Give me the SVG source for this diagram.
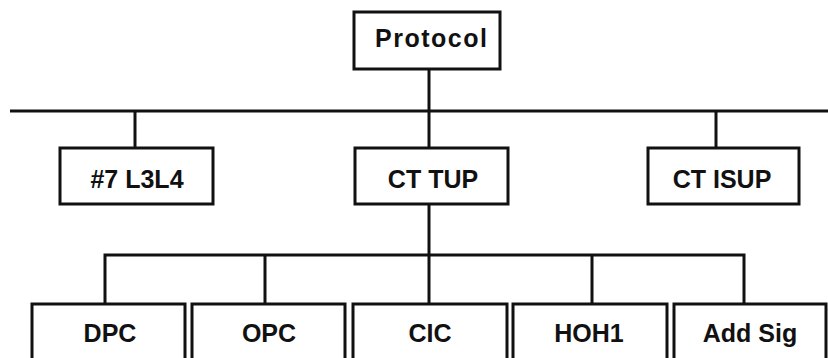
<svg xmlns="http://www.w3.org/2000/svg" width="828" height="358" viewBox="0 0 828 358">
  <style>
    .box { fill: #fff; stroke: #111; stroke-width: 3; }
    .wire { fill: none; stroke: #111; stroke-width: 3; }
    .lbl { font-family: "Liberation Sans", Arial, sans-serif; font-size: 25px; font-weight: bold; fill: #111; text-anchor: middle; }
  </style>
  <rect width="828" height="358" fill="#fff"/>
  <g id="connectors">
    <line class="wire" x1="429" y1="69" x2="429" y2="148"/>
    <line class="wire" x1="10" y1="111" x2="828" y2="111"/>
    <line class="wire" x1="135" y1="111" x2="135" y2="148"/>
    <line class="wire" x1="716" y1="111" x2="716" y2="148"/>
    <line class="wire" x1="429" y1="204" x2="429" y2="304"/>
    <polyline class="wire" points="105,304 105,255 744,255 744,304"/>
    <line class="wire" x1="265" y1="255" x2="265" y2="304"/>
    <line class="wire" x1="592" y1="255" x2="592" y2="304"/>
  </g>
  <g id="protocol">
    <rect class="box" x="354" y="12" width="146" height="57"/>
    <text class="lbl" x="431" y="47" textLength="112" lengthAdjust="spacing">Protocol</text>
  </g>
  <g id="l3l4">
    <rect class="box" x="60" y="148" width="153" height="56"/>
    <text class="lbl" x="137" y="188">#7 L3L4</text>
  </g>
  <g id="ct-tup">
    <rect class="box" x="355" y="148" width="153" height="56"/>
    <text class="lbl" x="433" y="188">CT TUP</text>
  </g>
  <g id="ct-isup">
    <rect class="box" x="648" y="148" width="151" height="56"/>
    <text class="lbl" x="722" y="188">CT ISUP</text>
  </g>
  <g id="dpc">
    <rect class="box" x="32" y="304" width="153" height="60"/>
    <text class="lbl" x="110" y="342">DPC</text>
  </g>
  <g id="opc">
    <rect class="box" x="192" y="304" width="153" height="60"/>
    <text class="lbl" x="269" y="342">OPC</text>
  </g>
  <g id="cic">
    <rect class="box" x="353" y="304" width="154" height="60"/>
    <text class="lbl" x="430" y="342">CIC</text>
  </g>
  <g id="hoh1">
    <rect class="box" x="513" y="304" width="154" height="60"/>
    <text class="lbl" x="589" y="342">HOH1</text>
  </g>
  <g id="add-sig">
    <rect class="box" x="674" y="304" width="152" height="60"/>
    <text class="lbl" x="750" y="342">Add Sig</text>
  </g>
</svg>
